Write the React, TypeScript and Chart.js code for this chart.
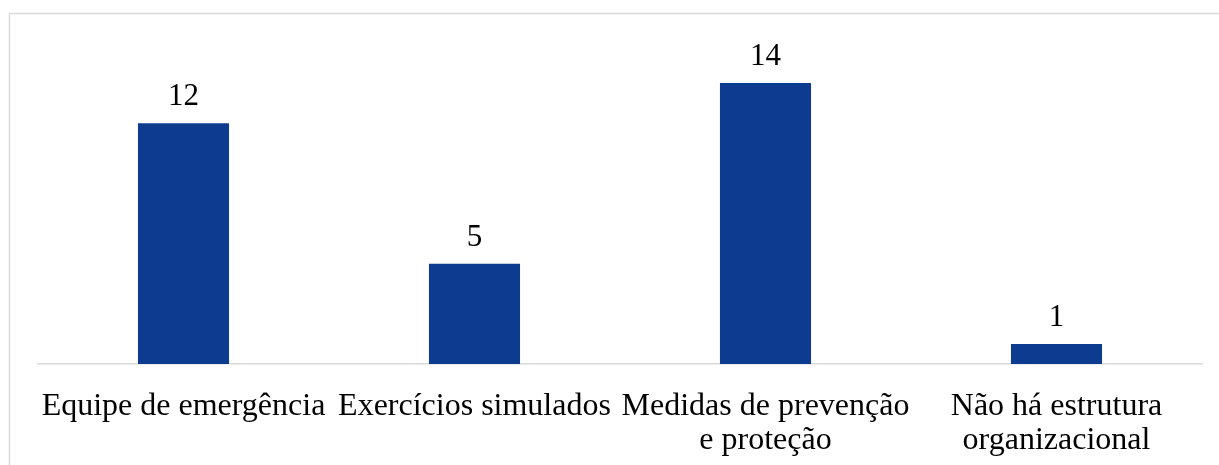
import React, { useEffect, useRef } from "react";
import { Chart, registerables } from "chart.js";

Chart.register(...registerables);

const categories: (string | string[])[] = [
  "Equipe de emergência",
  "Exercícios simulados",
  ["Medidas de prevenção", "e proteção"],
  ["Não há estrutura", "organizacional"],
];
const values: number[] = [12, 5, 14, 1];

const FONT = "'Liberation Serif', 'Times New Roman', serif";

const frameAndLabels = {
  id: "frameAndLabels",
  beforeDraw(chart: any) {
    const ctx = chart.ctx;
    ctx.save();
    ctx.strokeStyle = "#d9d9d9";
    ctx.lineWidth = 1.5;
    ctx.strokeRect(9.5, 13.5, 1400, 600);
    ctx.restore();
  },
  afterDatasetsDraw(chart: any) {
    const ctx = chart.ctx;
    const meta = chart.getDatasetMeta(0);
    ctx.save();
    ctx.fillStyle = "#000";
    ctx.font = `31px ${FONT}`;
    ctx.textAlign = "center";
    ctx.textBaseline = "alphabetic";
    meta.data.forEach((bar: any, i: number) => {
      ctx.fillText(String(values[i]), bar.x, bar.y - 18);
    });
    ctx.restore();
  },
};

export default function App() {
  const ref = useRef<HTMLCanvasElement>(null);
  useEffect(() => {
    document.body.style.margin = "0";
    const chart = new Chart(ref.current!, {
      type: "bar",
      data: {
        labels: categories,
        datasets: [
          {
            data: values,
            backgroundColor: "#0C3B8F",
            barPercentage: 1,
            categoryPercentage: 0.313,
          },
        ],
      },
      options: {
        animation: false,
        responsive: false,
        layout: { padding: { left: 38, right: 17, top: 83, bottom: 0 } },
        plugins: { legend: { display: false }, tooltip: { enabled: false } },
        scales: {
          y: { display: false, min: 0, max: 14 },
          x: {
            grid: { display: false },
            border: { display: true, color: "#d9d9d9", width: 1.5 },
            ticks: {
              color: "#000",
              font: { family: FONT, size: 32, lineHeight: 1.06 },
              padding: 18,
              maxRotation: 0,
              autoSkip: false,
            },
            afterFit(scale: any) {
              scale.height = 101;
            },
          },
        },
      },
      plugins: [frameAndLabels],
    });
    return () => chart.destroy();
  }, []);
  return (
    <div style={{ position: "absolute", left: 0, top: 0, width: 1219, height: 465, background: "#fff" }}>
      <canvas ref={ref} width={1219} height={465} style={{ display: "block" }} />
    </div>
  );
}
